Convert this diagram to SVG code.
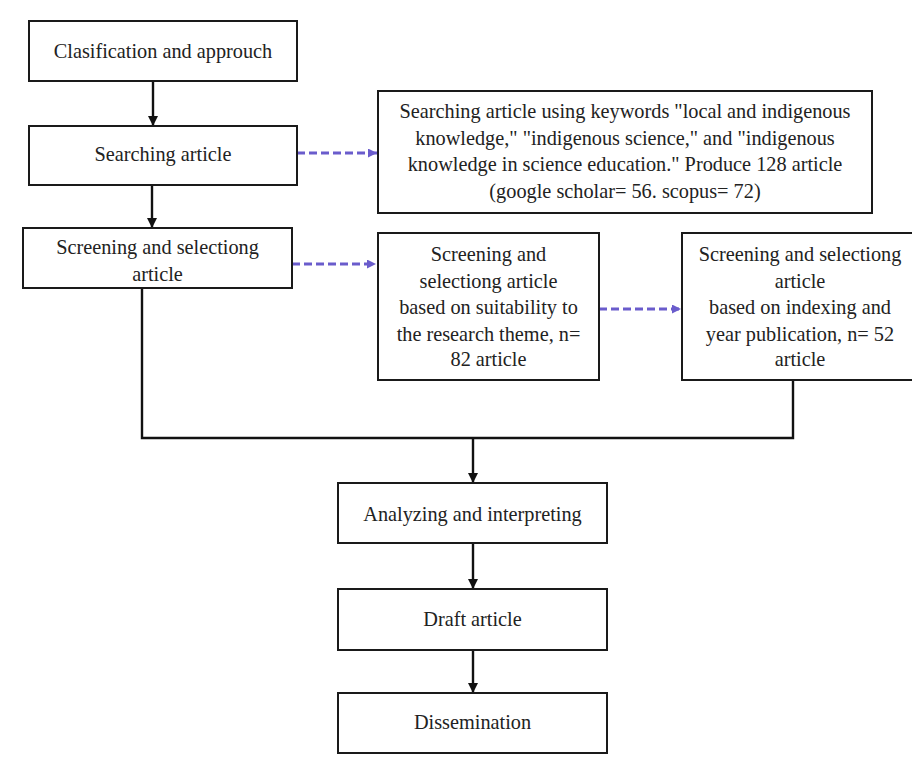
<svg xmlns="http://www.w3.org/2000/svg" width="912" height="758" viewBox="0 0 912 758">
<defs>
<style>
.box{fill:#fff;stroke:#1a1a1a;stroke-width:2}
.t{font-family:"Liberation Serif","Times New Roman",serif;font-size:20.3px;fill:#222;text-anchor:middle}
.c{fill:none;stroke:#111;stroke-width:2.4}
.d{fill:none;stroke:#6a5ccc;stroke-width:3;stroke-dasharray:8 4}
</style>
<marker id="ah" viewBox="0 0 10 10" refX="10" refY="5" markerUnits="userSpaceOnUse" markerWidth="10" markerHeight="11" orient="auto">
<path d="M0,0 L10,5 L0,10 z" fill="#111"/>
</marker>
<marker id="ahd" viewBox="0 0 10 10" refX="10" refY="5" markerUnits="userSpaceOnUse" markerWidth="10" markerHeight="9" orient="auto">
<path d="M0,0 L10,5 L0,10 z" fill="#6a5ccc"/>
</marker>
</defs>
<rect width="912" height="758" fill="#fff"/>
<g id="connectors">
<line class="c" x1="153" y1="81" x2="153" y2="126" marker-end="url(#ah)"/>
<line class="c" x1="152" y1="185" x2="152" y2="228" marker-end="url(#ah)"/>
<line class="d" x1="297" y1="153" x2="377" y2="153" marker-end="url(#ahd)"/>
<line class="d" x1="292" y1="264" x2="376" y2="264" marker-end="url(#ahd)"/>
<line class="d" x1="599" y1="309" x2="681" y2="309" marker-end="url(#ahd)"/>
<polyline class="c" points="142,288 142,438 793,438 793,380"/>
<line class="c" x1="473" y1="438" x2="473" y2="483" marker-end="url(#ah)"/>
<line class="c" x1="473" y1="543" x2="473" y2="589" marker-end="url(#ah)"/>
<line class="c" x1="473" y1="650" x2="473" y2="693" marker-end="url(#ah)"/>
</g>
<g id="n1">
<rect class="box" x="29" y="21" width="268" height="60"/>
<text class="t" x="163" y="58">Clasification and approuch</text>
</g>
<g id="n2">
<rect class="box" x="29" y="126" width="268" height="59"/>
<text class="t" x="163" y="161">Searching article</text>
</g>
<g id="n3">
<rect class="box" x="23" y="228" width="269" height="60"/>
<text class="t" x="157.5" y="254">Screening and selectiong</text>
<text class="t" x="157.5" y="281">article</text>
</g>
<g id="n4">
<rect class="box" x="378" y="91" width="494" height="122"/>
<text class="t" x="625" y="118">Searching article using keywords "local and indigenous</text>
<text class="t" x="625" y="144.5">knowledge," "indigenous science," and "indigenous</text>
<text class="t" x="625" y="171">knowledge in science education." Produce 128 article</text>
<text class="t" x="625" y="197.5">(google scholar= 56. scopus= 72)</text>
</g>
<g id="n5">
<rect class="box" x="378" y="233" width="221" height="147"/>
<text class="t" x="488.5" y="261">Screening and</text>
<text class="t" x="488.5" y="288">selectiong article</text>
<text class="t" x="488.5" y="314">based on suitability to</text>
<text class="t" x="488.5" y="341">the research theme, n=</text>
<text class="t" x="488.5" y="366">82 article</text>
</g>
<g id="n6">
<rect class="box" x="682" y="233" width="236" height="147"/>
<text class="t" x="800" y="261">Screening and selectiong</text>
<text class="t" x="800" y="288">article</text>
<text class="t" x="800" y="314">based on indexing and</text>
<text class="t" x="800" y="341">year publication, n= 52</text>
<text class="t" x="800" y="366">article</text>
</g>
<g id="n7">
<rect class="box" x="338" y="483" width="269" height="60"/>
<text class="t" x="472.5" y="521">Analyzing and interpreting</text>
</g>
<g id="n8">
<rect class="box" x="338" y="589" width="269" height="61"/>
<text class="t" x="472.5" y="626">Draft article</text>
</g>
<g id="n9">
<rect class="box" x="338" y="693" width="269" height="60"/>
<text class="t" x="472.5" y="729">Dissemination</text>
</g>
</svg>
